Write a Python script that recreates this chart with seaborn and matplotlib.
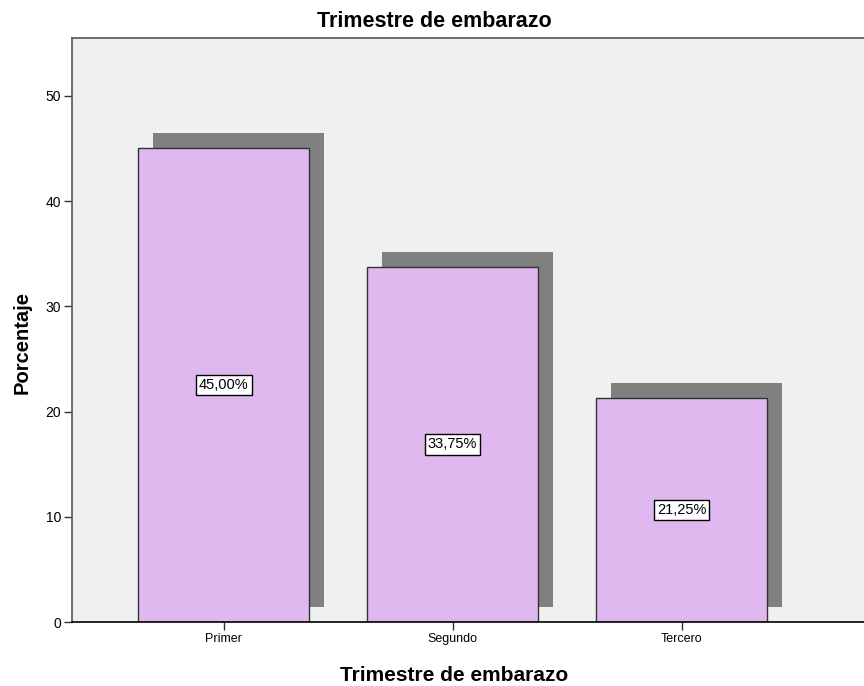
import matplotlib
matplotlib.use("Agg")
import matplotlib.pyplot as plt
import matplotlib.transforms as mtransforms
import seaborn as sns
import pandas as pd

# Datos
categorias = ["Primer", "Segundo", "Tercero"]
porcentajes = [45.00, 33.75, 21.25]
etiquetas = ["45,00%", "33,75%", "21,25%"]

df = pd.DataFrame({"Trimestre": categorias, "Porcentaje": porcentajes})

sns.set_style("white")
plt.rcParams["font.family"] = ["Liberation Sans", "DejaVu Sans"]
plt.rcParams["text.color"] = "black"
plt.rcParams["axes.labelcolor"] = "black"
plt.rcParams["xtick.color"] = "black"
plt.rcParams["ytick.color"] = "black"

fig = plt.figure(figsize=(8.64, 6.86), dpi=100)
ax = fig.add_axes([72 / 864, 64 / 686, (868 - 72) / 864, (622 - 38) / 686])
ax.set_facecolor("#f0f0f0")

# sombra de las barras (desplazada arriba-derecha)
sns.barplot(data=df, x="Trimestre", y="Porcentaje", color="#808080", width=0.75,
            saturation=1, linewidth=0, ax=ax)
sombra = mtransforms.ScaledTranslation(15 / 100, 15 / 100, fig.dpi_scale_trans)
for p in ax.patches:
    p.set_transform(ax.transData + sombra)

# barras principales
sns.barplot(data=df, x="Trimestre", y="Porcentaje", color="#dfb8f0", width=0.75,
            saturation=1, edgecolor="#333333", linewidth=1.0, ax=ax)

for i, (v, t) in enumerate(zip(porcentajes, etiquetas)):
    ax.text(i, v / 2, t, ha="center", va="center", fontsize=10.5, color="black",
            bbox=dict(boxstyle="square,pad=0.22", facecolor="white", edgecolor="black", linewidth=1))

ax.set_xlim(-0.662, 2.814)
ax.set_ylim(0, 55.5)
ax.set_yticks([0, 10, 20, 30, 40, 50])
ax.tick_params(axis="both", which="both", length=6, width=1, color="#333333",
               labelcolor="black", direction="out", pad=2, left=True, bottom=True)
ax.tick_params(axis="x", labelsize=9)
ax.tick_params(axis="y", labelsize=10)

for s in ["left", "top"]:
    ax.spines[s].set_color("#555555")
    ax.spines[s].set_linewidth(1.2)
ax.spines["bottom"].set_color("black")
ax.spines["bottom"].set_linewidth(1.2)
ax.spines["right"].set_visible(False)

ax.set_xlabel("Trimestre de embarazo", fontsize=15, fontweight="bold", labelpad=15, color="black")
ax.xaxis.label.set_x((454 - 72) / 796)
ax.set_ylabel("Porcentaje", fontsize=14.5, fontweight="bold", labelpad=10, color="black")
ax.yaxis.label.set_y((622 - 342) / 584)
fig.text(434 / 864, 1 - 27 / 686, "Trimestre de embarazo",
         ha="center", va="baseline", fontsize=15.5, fontweight="bold", color="black")

fig.savefig("out.png", dpi=100, facecolor="white")
